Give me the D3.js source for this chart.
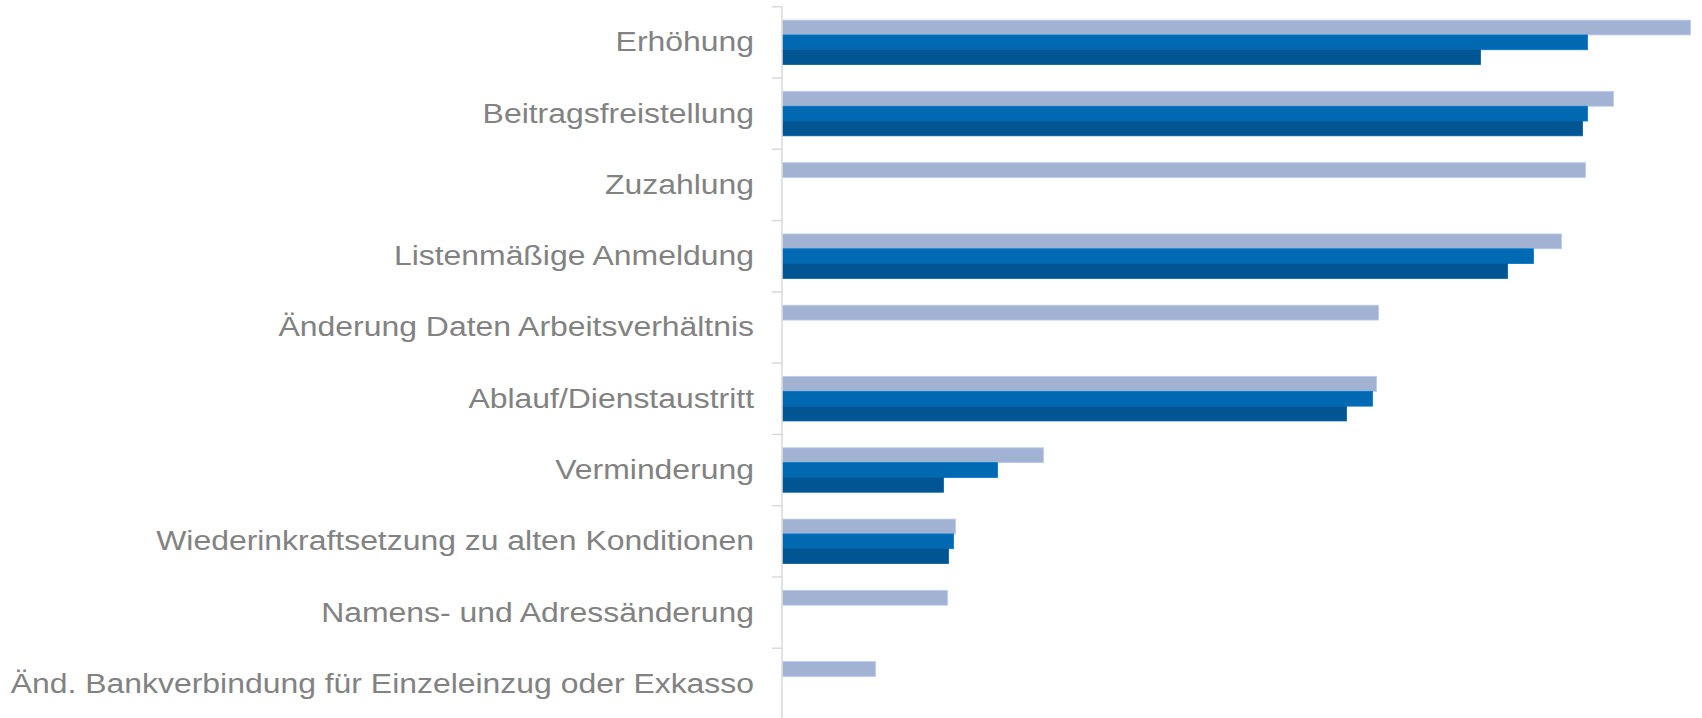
<!DOCTYPE html>
<html>
<head>
<meta charset="utf-8">
<script src="https://cdn.jsdelivr.net/npm/d3@7"></script>
<style>
  html, body { margin: 0; padding: 0; background: #ffffff; }
  svg { display: block; }
</style>
</head>
<body>
<svg id="chart" width="1702" height="718"></svg>
<script>
// ---- Data ----
const categories = [
  "Erhöhung",
  "Beitragsfreistellung",
  "Zuzahlung",
  "Listenmäßige Anmeldung",
  "Änderung Daten Arbeitsverhältnis",
  "Ablauf/Dienstaustritt",
  "Verminderung",
  "Wiederinkraftsetzung zu alten Konditionen",
  "Namens- und Adressänderung",
  "Änd. Bankverbindung für Einzeleinzug oder Exkasso"
];
const seriesNames = ["Serie 1", "Serie 2", "Serie 3"];
const series1 = [908, 831, 803, 779, 596, 594, 261, 173, 165, 93];
const series2 = [805, 805, null, 751, null, 590, 215, 171, null, null];
const series3 = [698, 800, null, 725, null, 564, 161, 166, null, null];
const seriesColors = ["#a2b2d3", "#0069b2", "#005592"];
const xMax = 920;

// ---- Layout ----
const svg = d3.select("#chart");
const axisX = 782;
const rightEdge = 1702;
const topY = 6.7;
const step = 71.28;

const x = d3.scaleLinear().domain([0, xMax]).range([axisX, rightEdge]);
const y = d3.scaleBand()
  .domain(categories)
  .range([topY, topY + step * categories.length])
  .paddingInner(0.377)
  .paddingOuter(0.1885);
const ySub = d3.scaleBand()
  .domain(seriesNames)
  .range([0, y.bandwidth()]);

const allSeries = [series1, series2, series3];

// ---- Bars ----
const groups = svg.append("g").selectAll("g")
  .data(categories)
  .join("g")
  .attr("transform", d => `translate(0,${y(d)})`);

groups.selectAll("rect")
  .data((c, i) => seriesNames.map((s, k) => ({ s, k, v: allSeries[k][i] })).filter(d => d.v != null))
  .join("rect")
  .attr("x", x(0) + 0.5)
  .attr("y", d => ySub(d.s))
  .attr("width", d => x(d.v) - x(0))
  .attr("height", ySub.bandwidth())
  .attr("fill", d => seriesColors[d.k])
  .attr("stroke", d => d3.color(seriesColors[d.k]).brighter(0.35))
  .attr("stroke-width", 0.8);

// ---- Axis ----
const axisG = svg.append("g").attr("transform", `translate(${axisX},0)`);
const yAxis = d3.axisLeft(y).tickSize(0).tickFormat("");
axisG.call(yAxis);
axisG.select(".domain").remove();

const tickPositions = d3.range(categories.length + 1).map(i => topY + i * step);
axisG.append("line")
  .attr("x1", 0).attr("x2", 0)
  .attr("y1", topY - 0.7).attr("y2", 718)
  .attr("stroke", "#d9d9d9").attr("stroke-width", 1.5);
axisG.selectAll("line.tk")
  .data(tickPositions)
  .join("line")
  .attr("class", "tk")
  .attr("x1", -10).attr("x2", 0)
  .attr("y1", d => d).attr("y2", d => d)
  .attr("stroke", "#d9d9d9").attr("stroke-width", 1.5);

// ---- Category labels ----
svg.append("g").selectAll("text")
  .data(categories)
  .join("text")
  .attr("transform", d => `translate(754,${y(d) + y.bandwidth() / 2 + 9}) scale(1.14,1)`)
  .attr("text-anchor", "end")
  .attr("font-family", "'Liberation Sans', Arial, sans-serif")
  .attr("font-size", 28)
  .attr("fill", "#828282")
  .text(d => d);
</script>
</body>
</html>
